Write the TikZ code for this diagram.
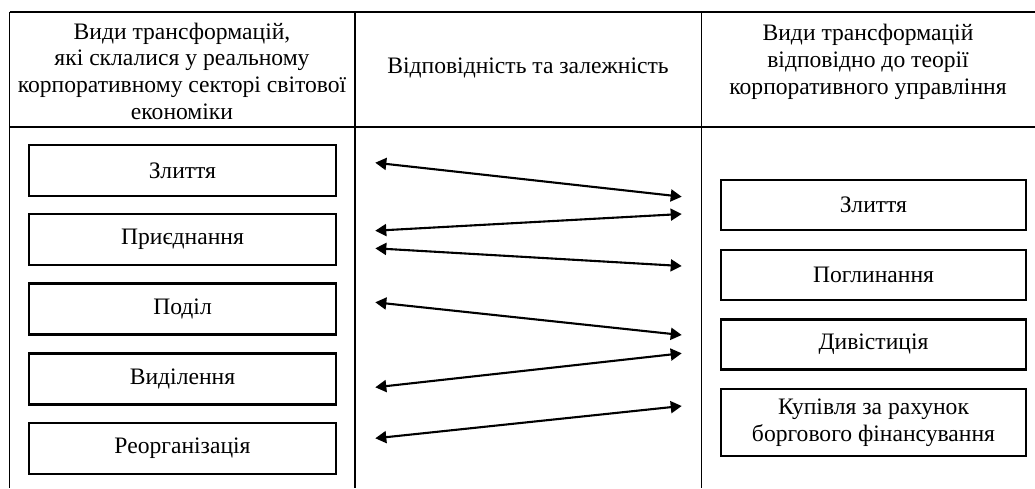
\documentclass[tikz,border=0pt]{standalone}
\usepackage{fontspec}
\setmainfont{Liberation Serif}
\usetikzlibrary{arrows.meta}
\begin{document}
\begin{tikzpicture}[x=1pt,y=-1pt,
  tline/.style={line width=1.2pt},
  lbox/.style={draw,line width=2.6pt,minimum width=307pt,minimum height=51pt,inner sep=0pt,align=center,font=\fontsize{23.6}{26.7}\selectfont},
  rbox/.style={draw,line width=2.6pt,minimum width=305pt,minimum height=50pt,inner sep=0pt,align=center,font=\fontsize{23.6}{26.7}\selectfont},
  htext/.style={align=center,inner sep=0pt,font=\fontsize{23.6}{26.7}\selectfont},
  arr/.style={line width=2.1pt,{Triangle[length=11pt,width=12pt]}-{Triangle[length=11pt,width=12pt]}}]
\useasboundingbox (0,0) rectangle (1035,488);
% table
\draw[tline] (9.5,12) -- (1035,12);
\draw[tline] (9.5,127) -- (1035,127);
\draw[tline] (9.5,12) -- (9.5,488);
\draw[tline] (355,12) -- (355,488);
\draw[tline] (701.5,12) -- (701.5,488);
% headers
\node[htext] (h1) at (182,71) {Види трансформацій,\\які склалися у реальному\\корпоративному секторі світової\\економіки};
\node[htext] (h2) at (528,68) {Відповідність та залежність};
\node[htext] (h3) at (868,62) {Види трансформацій\\відповідно до теорії\\корпоративного управління};
% left boxes
\node[lbox] (l1) at (182.5,170.5) {Злиття};
\node[lbox] (l2) at (182.5,239.5) {Приєднання};
\node[lbox] (l3) at (182.5,309) {Поділ};
\node[lbox] (l4) at (182.5,379) {Виділення};
\node[lbox] (l5) at (182.5,448.5) {Реорганізація};
% right boxes
\node[rbox] (r1) at (873.5,205) {Злиття};
\node[rbox] (r2) at (873.5,275) {Поглинання};
\node[rbox] (r3) at (873.5,344.5) {Дивістиція};
\node[rbox,minimum height=67pt] (r4) at (873.5,422.5) {Купівля за рахунок\\боргового фінансування};
% arrows
\draw[arr] ([xshift=38pt,yshift=7.8pt]l1.east) -- ([xshift=-38pt,yshift=8.3pt]r1.west);
\draw[arr] ([xshift=38pt,yshift=8.8pt]l2.east) -- ([xshift=-38pt,yshift=-9pt]r1.west);
\draw[arr] ([xshift=38pt,yshift=-8.8pt]l2.east) -- ([xshift=-38pt,yshift=9pt]r2.west);
\draw[arr] ([xshift=38pt,yshift=6.7pt]l3.east) -- ([xshift=-38pt,yshift=9.5pt]r3.west);
\draw[arr] ([xshift=38pt,yshift=-8.3pt]l4.east) -- ([xshift=-38pt,yshift=-8.8pt]r3.west);
\draw[arr] ([xshift=38pt,yshift=10.2pt]l5.east) -- ([xshift=-38pt,yshift=16.5pt]r4.west);
\end{tikzpicture}
\end{document}
